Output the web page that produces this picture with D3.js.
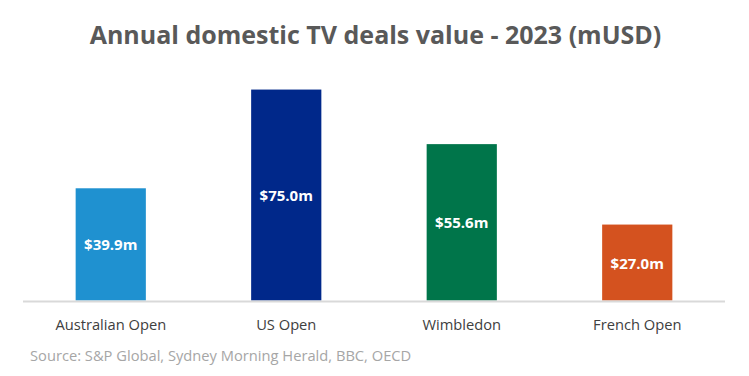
<!DOCTYPE html>
<html><head><meta charset="utf-8">
<script src="https://cdn.jsdelivr.net/npm/d3@7"></script>
<style>body{margin:0;background:#fff;}svg{display:block;font-family:"Open Sans",sans-serif;}</style>
</head><body><svg id="c" width="749" height="376"></svg>
<script>
const categories = ["Australian Open", "US Open", "Wimbledon", "French Open"];
const values = [39.9, 75.0, 55.6, 27.0];
const labels = ["$39.9m", "$75.0m", "$55.6m", "$27.0m"];
const colors = ["#1f91d0", "#00288a", "#00754a", "#d4521f"];
const title = "Annual domestic TV deals value - 2023 (mUSD)";
const source = "Source: S&P Global, Sydney Morning Herald, BBC, OECD";

const svg = d3.select("#c");
const x = d3.scaleBand().domain(categories).range([23, 725]).paddingInner(0.6).paddingOuter(0.3);
const y = d3.scaleLinear().domain([0, 80]).range([300.5, 75.5]);

svg.append("text").attr("x", 375.5).attr("y", 44).attr("text-anchor", "middle")
  .attr("font-size", 25).attr("font-weight", 700).attr("fill", "#595959").text(title);

const data = categories.map((c, i) => ({c, v: values[i], l: labels[i], col: colors[i]}));

svg.selectAll("rect.bar").data(data).join("rect").attr("class", "bar")
  .attr("x", d => x(d.c)).attr("width", x.bandwidth())
  .attr("y", d => y(d.v)).attr("height", d => y(0) - y(d.v)).attr("fill", d => d.col);

svg.selectAll("text.val").data(data).join("text").attr("class", "val")
  .attr("x", d => x(d.c) + x.bandwidth() / 2)
  .attr("y", d => (y(d.v) + y(0)) / 2 + 2)
  .attr("dominant-baseline", "middle")
  .attr("text-anchor", "middle").attr("font-size", 15).attr("font-weight", 700)
  .attr("fill", "#fff").text(d => d.l);

const axis = svg.append("g").attr("transform", `translate(0,${y(0)})`)
  .call(d3.axisBottom(x).tickSize(0).tickPadding(19));
axis.select(".domain").attr("stroke", "#d9d9d9").attr("stroke-width", 2)
  .attr("d", "M23,1H725");
axis.selectAll(".tick text").attr("font-family", "Open Sans, sans-serif")
  .attr("font-size", 14.7).attr("fill", "#404040");

svg.append("text").attr("x", 30).attr("y", 361).attr("font-size", 14.7)
  .attr("fill", "#a6a6a6").text(source);
</script></body></html>
